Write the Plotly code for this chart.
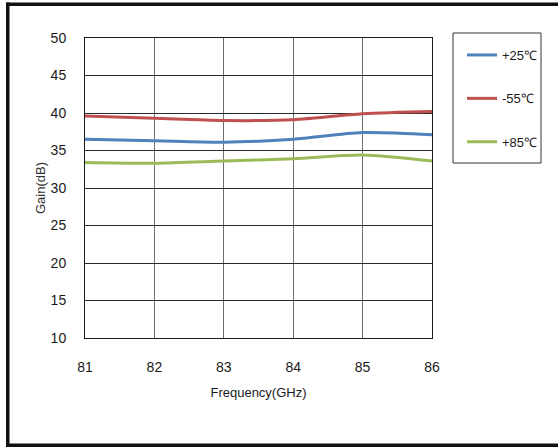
import plotly.graph_objects as go

freq = [81, 82, 83, 84, 85, 86]
gain_p25 = [36.5, 36.3, 36.1, 36.5, 37.4, 37.1]
gain_m55 = [39.6, 39.3, 39.0, 39.1, 39.9, 40.2]
gain_p85 = [33.4, 33.3, 33.6, 33.9, 34.4, 33.6]
names = ["+25℃", "-55℃", "+85℃"]
colors = ["#4F81BD", "#C0504D", "#9BBB59"]
x_ticks = [81, 82, 83, 84, 85, 86]
y_ticks = [10, 15, 20, 25, 30, 35, 40, 45, 50]

W, H = 558, 447
FONT = "Liberation Sans, Arial"

fig = go.Figure()
for i, (ys, nm, c) in enumerate(zip([gain_p25, gain_m55, gain_p85], names, colors)):
    fig.add_trace(go.Scatter(x=freq, y=ys, name=nm, mode="lines",
                             line=dict(color=c, width=3, shape="spline", smoothing=0.8),
                             legendgroup=str(i)))

fig.update_layout(
    width=W, height=H,
    margin=dict(l=85, r=W - 432, t=38, b=H - 338),
    paper_bgcolor="white", plot_bgcolor="white",
    font=dict(family=FONT, size=14, color="#1a1a1a"),
    showlegend=True,
    legend=dict(xref="container", yref="container", x=462 / W, y=1 - 40 / H,
                xanchor="left", yanchor="top", bgcolor="rgba(0,0,0,0)",
                borderwidth=0, font=dict(family=FONT, size=13, color="#1a1a1a"),
                itemwidth=30, tracegroupgap=23.5, traceorder="grouped"),
    xaxis=dict(range=[81, 86], tickvals=x_ticks, showgrid=True, gridcolor="#6e6e6e",
               gridwidth=1, zeroline=False, showline=True, linecolor="#1a1a1a",
               linewidth=1, mirror=True, ticks="", ticklen=0,
               title=dict(text="Frequency(GHz)", font=dict(size=13), standoff=14)),
    yaxis=dict(range=[10, 50], tickvals=y_ticks, showgrid=True, gridcolor="#2a2a2a",
               gridwidth=1, zeroline=False, showline=True, linecolor="#1a1a1a",
               linewidth=1, mirror=True, ticks="", ticklen=0,
               title=dict(text="Gain(dB)", font=dict(size=13, color="#333333"), standoff=2)),
)
fig.update_xaxes(ticklabelstandoff=16)
fig.update_yaxes(ticklabelstandoff=15)

def px_rect(x0, y0, x1, y1, **kw):
    fig.add_shape(type="rect", xref="paper", yref="paper",
                  x0=(x0 - 85) / (432 - 85), x1=(x1 - 85) / (432 - 85),
                  y0=(338 - y0) / 300, y1=(338 - y1) / 300, **kw)

# outer frame
px_rect(6, 2.5, 562, 6, fillcolor="#111111", line=dict(width=0))
px_rect(6, 2.5, 9.5, 447, fillcolor="#111111", line=dict(width=0))
px_rect(6, 443.5, 562, 447, fillcolor="#111111", line=dict(width=0))
# legend box
px_rect(453, 33, 541, 163, fillcolor="rgba(0,0,0,0)", line=dict(color="#333333", width=1))

fig.write_html("out.html", config={"displayModeBar": False})
with open("out.html", "r", encoding="utf-8") as f:
    html = f.read()
html = html.replace("<head>", "<head><style>html,body{margin:0;padding:0;overflow:hidden;}</style>", 1)
with open("out.html", "w", encoding="utf-8") as f:
    f.write(html)
